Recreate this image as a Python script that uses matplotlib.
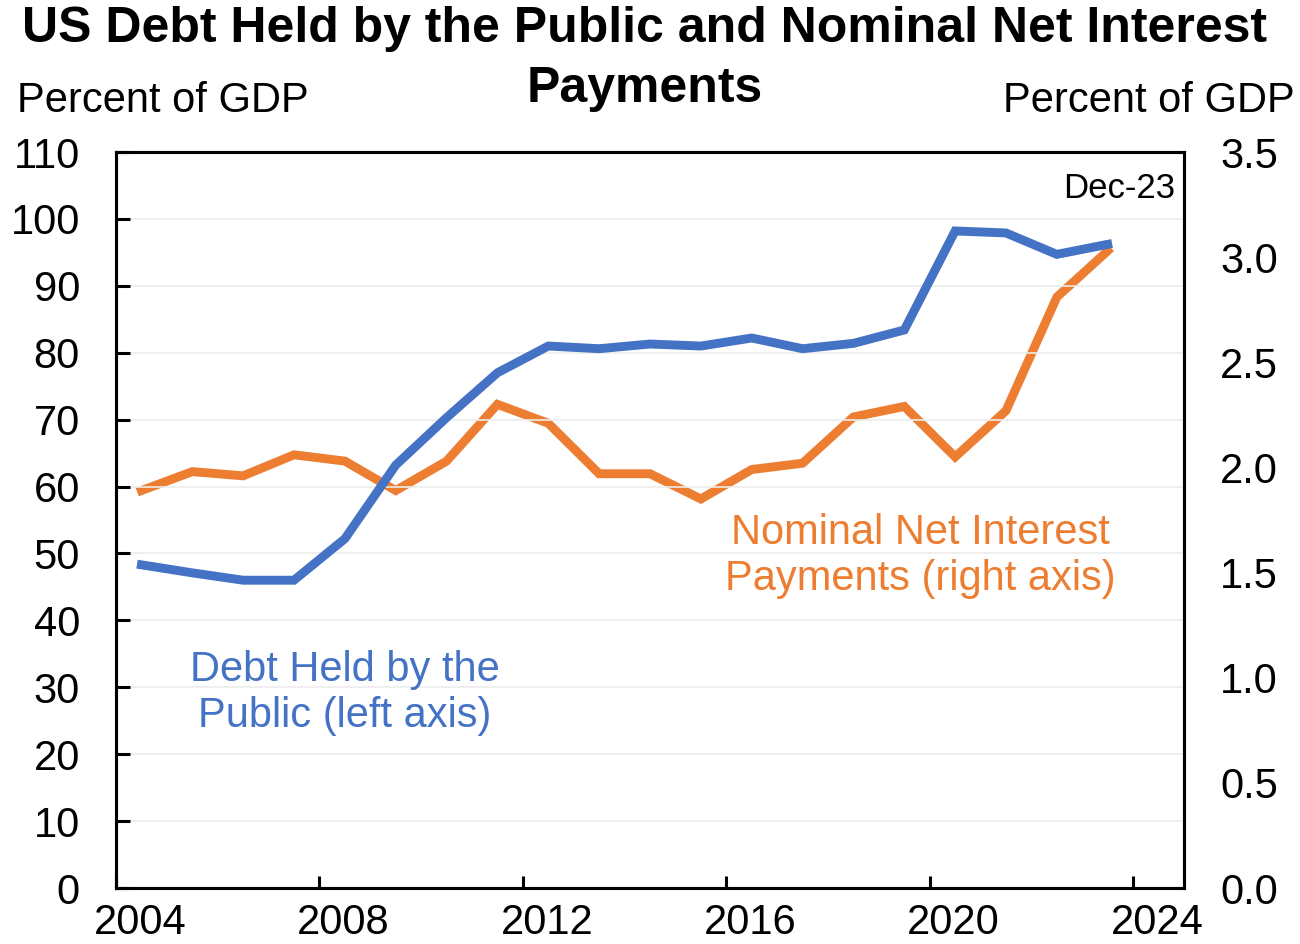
import numpy as np
import matplotlib
matplotlib.use("Agg")
import matplotlib.pyplot as plt

plt.rcParams['font.family'] = ['Liberation Sans', 'DejaVu Sans']

# Fiscal years (plotted at mid-year)
years = list(range(2004, 2024))
debt_pct_gdp = [48.3, 47.1, 46.0, 46.0, 52.2, 63.2, 70.3, 77.0, 81.0, 80.6,
                81.3, 81.0, 82.2, 80.6, 81.4, 83.4, 98.2, 97.9, 94.7, 96.2]
interest_pct_gdp = [1.89, 1.98, 1.96, 2.06, 2.03, 1.89, 2.03, 2.30, 2.21, 1.97,
                    1.97, 1.85, 1.99, 2.02, 2.24, 2.29, 2.05, 2.27, 2.81, 3.03]

left_ticks = list(range(0, 111, 10))
right_ticks = [0.0, 0.5, 1.0, 1.5, 2.0, 2.5, 3.0, 3.5]
x_ticks = [2004, 2008, 2012, 2016, 2020, 2024]

BLUE = '#4472C4'
ORANGE = '#ED7D31'

fig = plt.figure(figsize=(13, 9.44), dpi=100)
ax = fig.add_axes([116/1300, 1 - 888/944, (1184 - 116)/1300, (888 - 152)/944])
ax2 = ax.twinx()

x = np.array(years) + 0.5
ax.plot(x, debt_pct_gdp, color=BLUE, lw=6.4, solid_joinstyle='miter', zorder=3)
ax2.plot(x, interest_pct_gdp, color=ORANGE, lw=6.4, solid_joinstyle='miter', zorder=3)

ax.set_xlim(2004, 2025)
ax.set_ylim(0, 110)
ax2.set_ylim(0, 3.5)

ax.set_yticks(left_ticks)
ax.set_yticklabels([str(v) for v in left_ticks])
ax2.set_yticks(right_ticks)
ax2.set_yticklabels([f"{v:.1f}" for v in right_ticks])

# major ticks at year starts, labels centered half a year to the right
ax.set_xticks(x_ticks)
ax.set_xticklabels([])
ax.set_xticks([t + 0.47 for t in x_ticks], minor=True)
ax.set_xticklabels([str(t) for t in x_ticks], minor=True)

ax.grid(axis='y', color='#ececec', lw=1.2, zorder=0)
ax.set_axisbelow(True)

for a in (ax, ax2):
    for s in a.spines.values():
        s.set_linewidth(2.2)
        s.set_color('black')

ax.tick_params(axis='y', direction='in', length=10, width=2.2, pad=26,
               labelsize=30)
ax.tick_params(axis='x', which='major', direction='in', length=9, width=2.2)
ax.tick_params(axis='x', which='minor', length=0, pad=11, labelsize=30)
ax2.tick_params(axis='y', length=0, pad=26, labelsize=30)

ax.set_zorder(ax2.get_zorder() + 1)
ax.patch.set_visible(False)

# titles and axis captions
fig.text(645/1300, 1 - 29/944, "US Debt Held by the Public and Nominal Net Interest",
         ha='center', va='center', fontsize=36, fontweight='bold')
fig.text(645/1300, 1 - 89/944, "Payments", ha='center', va='center',
         fontsize=36, fontweight='bold')
fig.text(17/1300, 1 - 101/944, "Percent of GDP", ha='left', va='center', fontsize=30)
fig.text(1295/1300, 1 - 101/944, "Percent of GDP", ha='right', va='center', fontsize=30)

# series labels
fig.text(345/1300, 1 - 693/944, "Debt Held by the\nPublic (left axis)", color=BLUE,
         fontsize=30, ha='center', va='center', linespacing=1.2)
fig.text(920/1300, 1 - 556/944, "Nominal Net Interest\nPayments (right axis)",
         color=ORANGE, fontsize=30, ha='center', va='center', linespacing=1.2)
fig.text(1175/1300, 1 - 189/944, "Dec-23", ha='right', va='center', fontsize=25)

fig.savefig("out.png", dpi=100)
